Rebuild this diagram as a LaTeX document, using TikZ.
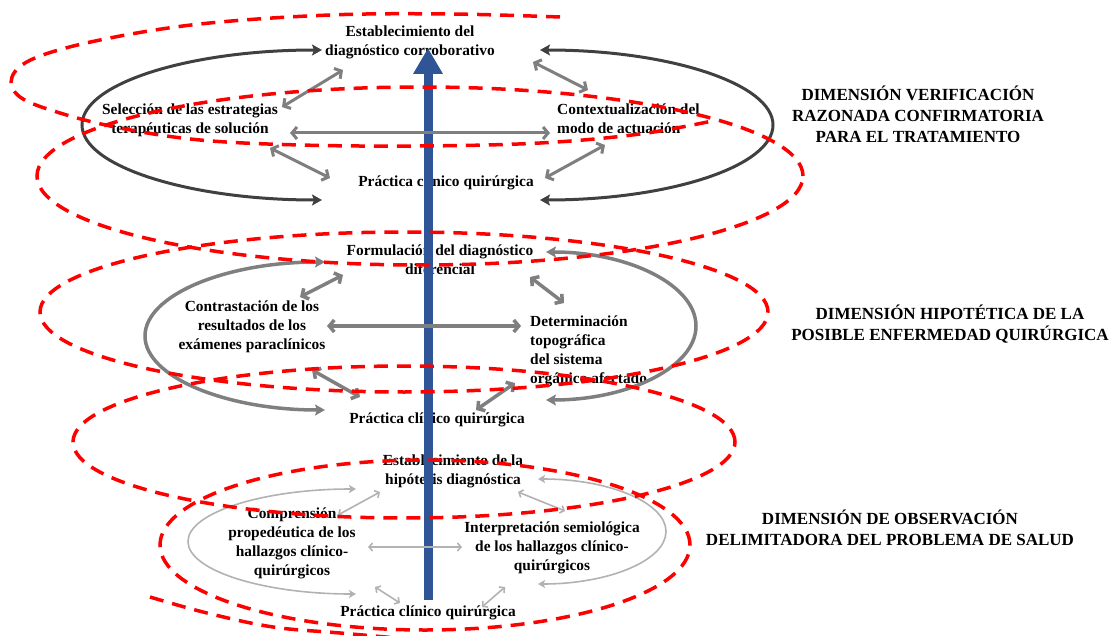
\documentclass[tikz,border=0pt]{standalone}
\usepackage{fontspec}
\setmainfont{Liberation Serif}
\usepackage{xcolor}
\usepackage{tikz}
\usetikzlibrary{arrows.meta}

\definecolor{loopred}{HTML}{FF0000}
\definecolor{axisblue}{HTML}{2F5597}
\definecolor{darkline}{HTML}{404040}
\definecolor{midline}{HTML}{7F7F7F}
\definecolor{lightline}{HTML}{B2B2B2}

\begin{document}
\begin{tikzpicture}[x=1pt, y=1pt,
    stagetext/.style={font=\fontsize{15.4}{19}\selectfont\bfseries, align=center, inner sep=2pt},
    dimtext/.style={font=\fontsize{17}{21}\selectfont\bfseries, align=center, inner sep=0pt},
    toparc/.style={draw=darkline, line width=3pt, arrows={Stealth[length=10pt,width=11pt,inset=2pt]-Stealth[length=10pt,width=11pt,inset=2pt]}},
    midarc/.style={draw=midline, line width=3.5pt, arrows={Stealth[length=10pt,width=11pt,inset=2pt]-Stealth[length=10pt,width=11pt,inset=2pt]}},
    lowarc/.style={draw=lightline, line width=1.6pt, arrows={Stealth[length=7pt,width=8pt,inset=1.5pt]-Stealth[length=7pt,width=8pt,inset=1.5pt]}},
    toparrow/.style={draw=midline, line width=3pt, arrows={Straight Barb[length=5pt,width=12pt]-Straight Barb[length=5pt,width=12pt]}},
    midarrow/.style={draw=midline, line width=3.5pt, arrows={Straight Barb[length=5pt,width=12pt]-Straight Barb[length=5pt,width=12pt]}},
    lowarrow/.style={draw=lightline, line width=1.6pt, arrows={Straight Barb[length=3.5pt,width=8pt]-Straight Barb[length=3.5pt,width=8pt]}},
    spiral/.style={draw=loopred, line width=3.5pt, dash pattern=on 14pt off 9pt},
    axis/.style={draw=axisblue, line width=9pt, arrows={-Triangle[length=26pt,width=28pt]}}
]
    \useasboundingbox (0,0) rectangle (1113,-636);

    % verification level
    \node(corrob) [stagetext] at (410,-42) {Establecimiento del\\diagnóstico corroborativo};
    \node(selec) [stagetext] at (190,-120) {Selección de las estrategias\\terapéuticas de solución};
    \node(context) [stagetext, align=left, anchor=west] at (555,-119) {Contextualización del\\modo de actuación};
    \node(practop) [stagetext] at (446,-183) {Práctica clínico quirúrgica};

    % hypothesis level
    \node(formul) [stagetext] at (440,-260) {Formulación del diagnóstico\\diferencial};
    \node(contras) [stagetext] at (252,-327) {Contrastación de los\\resultados de los\\exámenes paraclínicos};
    \node(determ) [stagetext, align=left, anchor=west] at (528,-351) {Determinación\\topográfica\\del sistema\\orgánico afectado};
    \node(pracmid) [stagetext] at (437,-420) {Práctica clínico quirúrgica};

    % observation level
    \node(hipot) [stagetext] at (453,-471) {Establecimiento de la\\hipótesis diagnóstica};
    \node(compren) [stagetext] at (292,-543) {Comprensión\\propedéutica de los\\hallazgos clínico-\\quirúrgicos};
    \node(interp) [stagetext] at (552,-548) {Interpretación semiológica\\de los hallazgos clínico-\\quirúrgicos};
    \node(pracbot) [stagetext] at (428,-613) {Práctica clínico quirúrgica};

    \node(dimver) [dimtext] at (918,-114) {DIMENSIÓN VERIFICACIÓN\\RAZONADA CONFIRMATORIA\\PARA EL TRATAMIENTO};
    \node(dimhip) [dimtext] at (950,-324) {DIMENSIÓN HIPOTÉTICA DE LA\\POSIBLE ENFERMEDAD QUIRÚRGICA};
    \node(dimobs) [dimtext] at (890,-528) {DIMENSIÓN DE OBSERVACIÓN\\DELIMITADORA DEL PROBLEMA DE SALUD};

    \coordinate(axisfoot) at (428,-600);
    \coordinate(axishead) at (428,-48);
    \draw[axis] (axisfoot) -- (axishead);

    % cycles around each level
    \draw[toparc] ([shift={(-88,-8)}]corrob.center) arc[start angle=90, end angle=270, x radius=240, y radius=75];
    \draw[toparc] ([shift={(130,-8)}]corrob.center) arc[start angle=90, end angle=-90, x radius=233, y radius=75];
    \draw[midarc] ([shift={(-115,-2)}]formul.center) arc[start angle=90, end angle=270, x radius=180, y radius=74];
    \draw[midarc] ([shift={(106,8)}]formul.center) arc[start angle=90, end angle=-90, x radius=150, y radius=74];
    \draw[lowarc] ([shift={(-97,-18)}]hipot.center) arc[start angle=90, end angle=270, x radius=168, y radius=52.5];
    \draw[lowarc] ([shift={(85,-8)}]hipot.center) arc[start angle=90, end angle=-90, x radius=128, y radius=52.5];

    \draw[toparrow] ([shift={(92,13)}]selec.center) -- ([shift={(-67,-28)}]corrob.center);
    \draw[toparrow] ([shift={(80,-28)}]selec.center) -- ([shift={(-116,5)}]practop.center);
    \draw[toparrow] ([shift={(100,-13)}]selec.center) -- ([shift={(-5,-14)}]context.west);
    \draw[toparrow] ([shift={(123,-20)}]corrob.center) -- ([shift={(33,29)}]context.west);
    \draw[toparrow] ([shift={(50,-26)}]context.west) -- ([shift={(99,5)}]practop.center);

    \draw[midarrow] ([shift={(48,30)}]contras.center) -- ([shift={(-97,-15)}]formul.center);
    \draw[midarrow] ([shift={(60,-43)}]contras.center) -- ([shift={(-77,23)}]pracmid.center);
    \draw[midarrow] ([shift={(75,1)}]contras.center) -- ([shift={(-7,25)}]determ.west);
    \draw[midarrow] ([shift={(90,-17)}]formul.center) -- ([shift={(36,48)}]determ.west);
    \draw[midarrow] ([shift={(-13,-32)}]determ.west) -- ([shift={(39,10)}]pracmid.center);

    \draw[lowarrow] ([shift={(46,28)}]compren.center) -- ([shift={(-73,-21)}]hipot.center);
    \draw[lowarrow] ([shift={(65,-21)}]hipot.center) -- ([shift={(13,37)}]interp.center);
    \draw[lowarrow] ([shift={(76,-4)}]compren.center) -- ([shift={(-90,1)}]interp.center);
    \draw[lowarrow] ([shift={(83,-44)}]compren.center) -- ([shift={(-28,10)}]pracbot.center);
    \draw[lowarrow] ([shift={(-47,-39)}]interp.center) -- ([shift={(54,6)}]pracbot.center);

    % red spiral
    \draw[spiral] plot[smooth, tension=0.6] coordinates {(560,-17) (450,-14) (330,-15) (200,-24) (100,-40) (35,-58) (12,-77) (20,-97) (60,-113) (120,-128) (200,-140) (300,-145) (420,-146) (540,-143) (640,-134) (717,-120)};
    \draw[spiral] (420,-176) ellipse[x radius=383, y radius=89];
    \draw[spiral] (404,-312) ellipse[x radius=364, y radius=80];
    \draw[spiral] (404,-442) ellipse[x radius=331, y radius=76];
    \draw[spiral] (425,-545) ellipse[x radius=265, y radius=85];
    \draw[spiral] plot[smooth, tension=0.6] coordinates {(150,-597) (207,-613) (273,-627) (340,-633) (420,-640)};
\end{tikzpicture}
\end{document}
